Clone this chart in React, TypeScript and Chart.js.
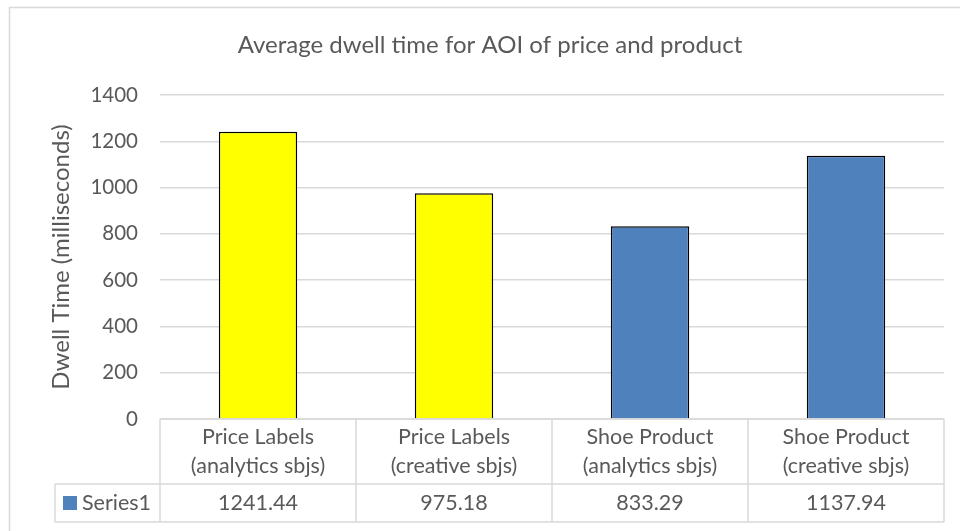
import React, { useEffect, useRef } from "react";
import { Chart, registerables } from "chart.js";

Chart.register(...registerables);

const chartTitle = "Average dwell time for AOI of price and product";
const yAxisTitle = "Dwell Time (milliseconds)";
const categories: string[][] = [
  ["Price Labels", "(analytics sbjs)"],
  ["Price Labels", "(creative sbjs)"],
  ["Shoe Product", "(analytics sbjs)"],
  ["Shoe Product", "(creative sbjs)"],
];
const seriesName = "Series1";
const seriesValues = [1241.44, 975.18, 833.29, 1137.94];
const valueLabels = ["1241.44", "975.18", "833.29", "1137.94"];
const barColors = ["#FFFF00", "#FFFF00", "#4F81BD", "#4F81BD"];
const legendColor = "#4F81BD";
const yMin = 0;
const yMax = 1400;
const yStep = 200;

const FONT = "Lato, 'Open Sans', sans-serif";
const TEXT = "#595959";
const LINE = "#D9D9D9";

const decorPlugin = {
  id: "decor",
  afterDraw(chart: any) {
    const { ctx, chartArea } = chart;
    const x = chart.scales.x;
    const n = categories.length;
    const left = chartArea.left;
    const right = chartArea.right;
    const colW = (right - left) / n;
    const top = chartArea.bottom;
    const row1 = top + 65;
    const row2 = row1 + 38;
    const labelLeft = 55;

    ctx.save();
    // outer border
    ctx.strokeStyle = LINE;
    ctx.lineWidth = 1.5;
    ctx.strokeRect(9.5, 7.5, 980, 560);

    // title
    ctx.fillStyle = TEXT;
    ctx.font = `24px ${FONT}`;
    ctx.textAlign = "center";
    ctx.textBaseline = "middle";
    ctx.fillText(chartTitle, 490, 45);

    // y axis title
    ctx.save();
    ctx.translate(61, (chartArea.top + chartArea.bottom) / 2);
    ctx.rotate(-Math.PI / 2);
    ctx.font = `24px ${FONT}`;
    ctx.fillText(yAxisTitle, 0, 0);
    ctx.restore();

    // table lines
    ctx.strokeStyle = LINE;
    ctx.lineWidth = 1.5;
    ctx.beginPath();
    ctx.moveTo(left, top);
    ctx.lineTo(right, top);
    ctx.moveTo(labelLeft, row1);
    ctx.lineTo(right, row1);
    ctx.moveTo(labelLeft, row2);
    ctx.lineTo(right, row2);
    ctx.moveTo(labelLeft, row1);
    ctx.lineTo(labelLeft, row2);
    for (let i = 0; i <= n; i++) {
      const xx = left + i * colW;
      ctx.moveTo(xx, top);
      ctx.lineTo(xx, row2);
    }
    ctx.stroke();

    // table text
    ctx.fillStyle = TEXT;
    ctx.font = `21.5px ${FONT}`;
    ctx.textAlign = "center";
    ctx.textBaseline = "middle";
    for (let i = 0; i < n; i++) {
      const cx = x.getPixelForValue(i);
      ctx.fillText(categories[i][0], cx, top + 18);
      ctx.fillText(categories[i][1], cx, top + 47);
      ctx.fillText(valueLabels[i], cx, row1 + 19);
    }
    // legend key
    ctx.fillStyle = legendColor;
    ctx.fillRect(63, row1 + 12, 14, 14);
    ctx.fillStyle = TEXT;
    ctx.textAlign = "left";
    ctx.fillText(seriesName, 82, row1 + 19);
    ctx.restore();
  },
};

export default function App() {
  const ref = useRef<HTMLCanvasElement | null>(null);
  useEffect(() => {
    if (!ref.current) return;
    const chart = new Chart(ref.current, {
      type: "bar",
      data: {
        labels: categories.map((c) => c.join(" ")),
        datasets: [
          {
            label: seriesName,
            data: seriesValues,
            backgroundColor: barColors,
            borderColor: "#000000",
            borderWidth: 1.5,
            categoryPercentage: 1,
            barPercentage: 0.4,
          },
        ],
      },
      options: {
        animation: false,
        responsive: false,
        maintainAspectRatio: false,
        layout: { padding: { left: 0, top: 95, right: 16, bottom: 112 } },
        plugins: {
          legend: { display: false },
          title: { display: false },
          tooltip: { enabled: false },
        },
        scales: {
          x: {
            grid: { display: false },
            border: { display: false },
            ticks: { display: false },
            afterFit: (s: any) => {
              s.height = 0;
            },
          },
          y: {
            min: yMin,
            max: yMax,
            ticks: {
              stepSize: yStep,
              color: TEXT,
              font: { family: FONT, size: 20.5 },
              padding: 22,
              callback: (v: any) => String(v),
            },
            grid: { color: LINE, lineWidth: 1.5, drawTicks: false },
            border: { display: false },
            afterFit: (s: any) => {
              s.width = 160;
            },
          },
        },
      },
      plugins: [decorPlugin],
    });
    return () => chart.destroy();
  }, []);
  return (
    <div style={{ position: "absolute", left: 0, top: 0, width: 960, height: 531, background: "#fff" }}>
      <canvas ref={ref} width={960} height={531} style={{ width: 960, height: 531 }} />
    </div>
  );
}
